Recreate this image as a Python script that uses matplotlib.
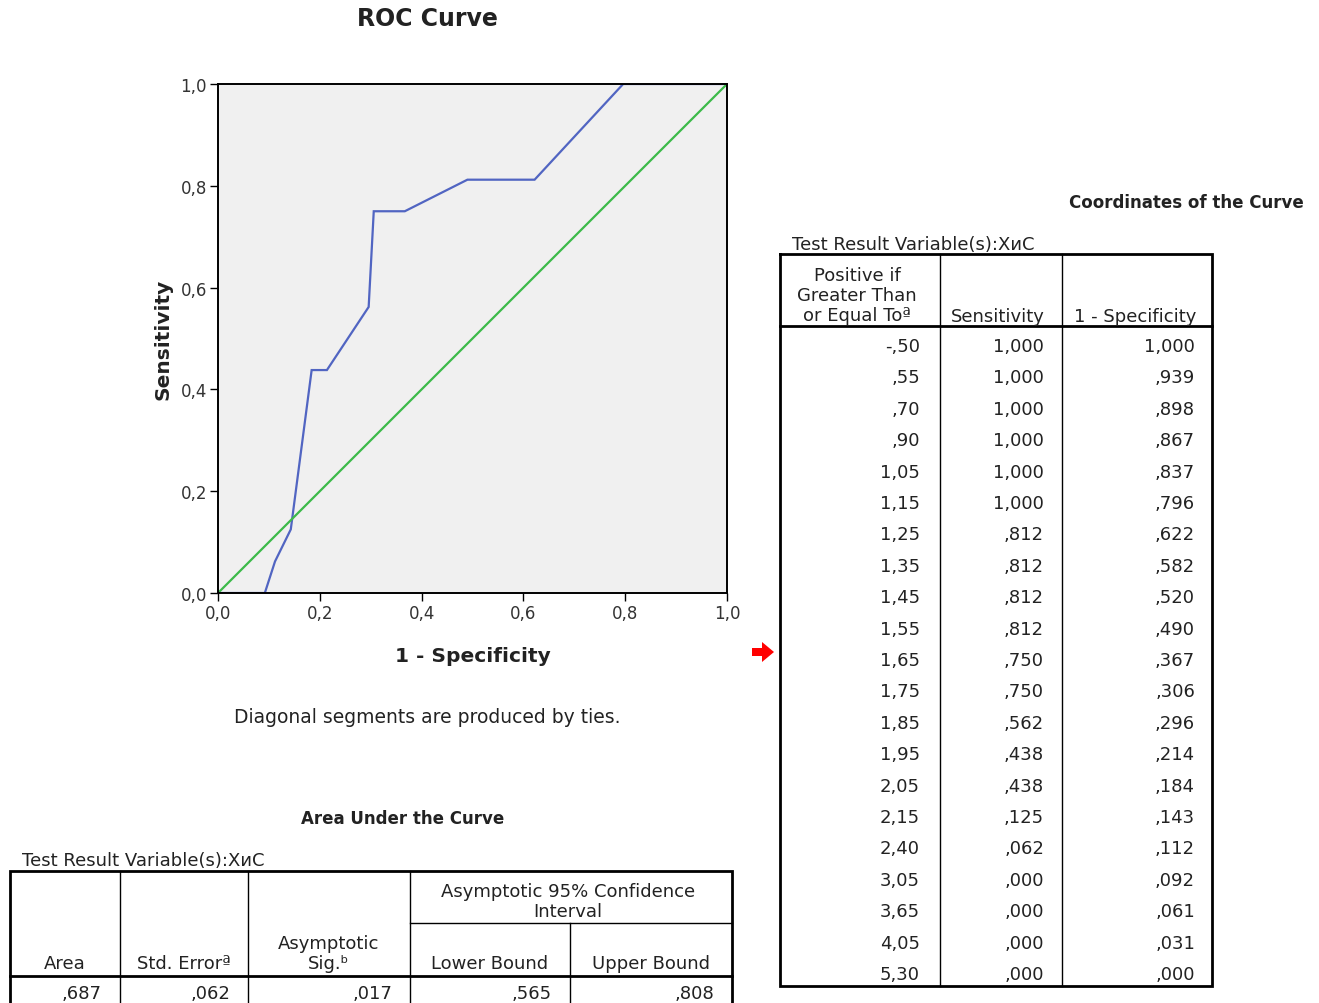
import matplotlib
matplotlib.use("Agg")
import matplotlib.pyplot as plt
from matplotlib.patches import Polygon

# ---------------- data ----------------
cutoffs = ["-,50", ",55", ",70", ",90", "1,05", "1,15", "1,25", "1,35", "1,45", "1,55",
           "1,65", "1,75", "1,85", "1,95", "2,05", "2,15", "2,40", "3,05", "3,65", "4,05", "5,30"]
sensitivity = [1.000, 1.000, 1.000, 1.000, 1.000, 1.000, 0.812, 0.812, 0.812, 0.812,
               0.750, 0.750, 0.562, 0.438, 0.438, 0.125, 0.062, 0.000, 0.000, 0.000, 0.000]
one_minus_spec = [1.000, 0.939, 0.898, 0.867, 0.837, 0.796, 0.622, 0.582, 0.520, 0.490,
                  0.367, 0.306, 0.296, 0.214, 0.184, 0.143, 0.112, 0.092, 0.061, 0.031, 0.000]
auc_headers = ["Area", "Std. Errorª", "Asymptotic\nSig.ᵇ", "Lower Bound", "Upper Bound"]
auc_values = [",687", ",062", ",017", ",565", ",808"]
ticks = [0.0, 0.2, 0.4, 0.6, 0.8, 1.0]
tick_labels = ["0,0", "0,2", "0,4", "0,6", "0,8", "1,0"]

def fmt(v):
    s = f"{v:.3f}"
    if s.startswith("0"):
        s = s[1:]
    return s.replace(".", ",")

W, H = 1319, 1004
fig = plt.figure(figsize=(W / 100, H / 100), dpi=100)
plt.rcParams['font.family'] = ['DejaVu Sans']

# ---------------- ROC axes ----------------
L, R, T, B = 218, 727, 85, 594
ax = fig.add_axes([L / W, 1 - B / H, (R - L) / W, (B - T) / H])
ax.set_facecolor("#f0f0f0")
ax.plot(one_minus_spec, sensitivity, color="#5165c2", lw=1.6, solid_joinstyle="miter")
ax.plot([0, 1], [0, 1], color="#3cba4a", lw=1.6)
ax.set_xlim(0, 1)
ax.set_ylim(0, 1)
ax.set_xticks(ticks)
ax.set_xticklabels(tick_labels, fontsize=12, color="#333333")
ax.set_yticks(ticks)
ax.set_yticklabels(tick_labels, fontsize=12, color="#333333")
ax.tick_params(direction="out", length=6, width=1.0, pad=2)
for sp in ax.spines.values():
    sp.set_linewidth(1.4)
    sp.set_color("black")
ax.set_xlabel("1 - Specificity", fontsize=14.5, fontweight="bold", labelpad=17, color="#222222")
ax.set_ylabel("Sensitivity", fontsize=14.5, fontweight="bold", labelpad=6, color="#222222")

# ---------------- overlay in pixel coordinates ----------------
ov = fig.add_axes([0, 0, 1, 1])
ov.set_xlim(0, W)
ov.set_ylim(H, 0)
ov.axis("off")
ov.patch.set_alpha(0)

tc = "#222222"
fs = 13
ls = 1.12

ov.text(427, 19, "ROC Curve", fontsize=17, fontweight="bold", ha="center", va="center", color=tc)
ov.text(427, 718, "Diagonal segments are produced by ties.", fontsize=13.5, ha="center", va="center", color=tc)

# red arrow
ov.add_patch(Polygon([[752, 649], [762, 649], [762, 643], [774, 653], [762, 663], [762, 657], [752, 657]],
                     closed=True, facecolor="#ff0000", edgecolor="none"))

# ---------------- Coordinates table ----------------
cx0, cx1, cx2, cx3 = 780, 940, 1062, 1212
cy0, cyh, cy1 = 255, 327, 987
ov.text(1186, 203, "Coordinates of the Curve", fontsize=12, fontweight="bold", ha="center", va="center", color=tc)
ov.text(792, 245, "Test Result Variable(s):ХиС", fontsize=fs, ha="left", va="center", color=tc)
ov.plot([cx0, cx3, cx3, cx0, cx0], [cy0, cy0, cy1, cy1, cy0], color="black", lw=2.0, solid_joinstyle="miter")
ov.plot([cx0, cx3], [cyh, cyh], color="black", lw=2.0)
for x in (cx1, cx2):
    ov.plot([x, x], [cy0, cy1], color="black", lw=1.0)
ov.text(857, 296, "Positive if\nGreater Than\nor Equal Toª", fontsize=fs, ha="center", va="center",
        linespacing=ls, color=tc)
ov.text(998, 317, "Sensitivity", fontsize=fs, ha="center", va="center", color=tc)
ov.text(1135, 317, "1 - Specificity", fontsize=fs, ha="center", va="center", color=tc)
row0, dy = 347, 31.4
for i, (c, s, f) in enumerate(zip(cutoffs, sensitivity, one_minus_spec)):
    y = row0 + i * dy
    ov.text(920, y, c, fontsize=fs, ha="right", va="center", color=tc)
    ov.text(1044, y, fmt(s), fontsize=fs, ha="right", va="center", color=tc)
    ov.text(1195, y, fmt(f), fontsize=fs, ha="right", va="center", color=tc)

# ---------------- AUC table ----------------
ax0, ax5 = 10, 732
cols = [10, 120, 248, 410, 570, 732]
ay0, aym, ayh = 872, 924, 977
ov.text(403, 819, "Area Under the Curve", fontsize=12, fontweight="bold", ha="center", va="center", color=tc)
ov.text(22, 861, "Test Result Variable(s):ХиС", fontsize=fs, ha="left", va="center", color=tc)
ov.plot([ax0, ax0, ax5, ax5], [H + 5, ay0, ay0, H + 5], color="black", lw=2.0, solid_joinstyle="miter")
ov.plot([ax0, ax5], [ayh, ayh], color="black", lw=2.0)
ov.plot([cols[3], ax5], [aym, aym], color="black", lw=1.0)
for x in cols[1:4]:
    ov.plot([x, x], [ay0, H + 5], color="black", lw=1.0)
ov.plot([cols[4], cols[4]], [aym, H + 5], color="black", lw=1.0)
ov.text(568, 902, "Asymptotic 95% Confidence\nInterval", fontsize=fs, ha="center", va="center",
        linespacing=ls, color=tc)
for j, h in enumerate(auc_headers):
    xc = (cols[j] + cols[j + 1]) / 2
    yc = 954 if "\n" in h else 964
    ov.text(xc, yc, h, fontsize=fs, ha="center", va="center", linespacing=ls, color=tc)
for j, v in enumerate(auc_values):
    ov.text(cols[j + 1] - 18, 994, v, fontsize=fs, ha="right", va="center", color=tc)

fig.savefig("out.png", dpi=100)
